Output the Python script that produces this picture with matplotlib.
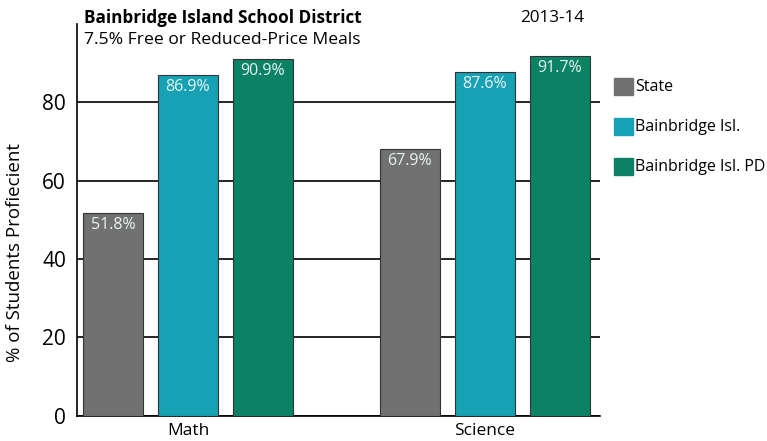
import numpy as np
import matplotlib
matplotlib.use("Agg")
import matplotlib.pyplot as plt
from matplotlib.patches import Rectangle

plt.rcParams['font.family'] = ['Open Sans', 'DejaVu Sans']

subjects = ["Math", "Science"]
series = ["State", "Bainbridge Isl.", "Bainbridge Isl. PD"]
values = {
    "State": [51.8, 67.9],
    "Bainbridge Isl.": [86.9, 87.6],
    "Bainbridge Isl. PD": [90.9, 91.7],
}
colors = ["#727172", "#16a2b4", "#0c8265"]
yticks = [0, 20, 40, 60, 80]

fig = plt.figure(figsize=(7.67, 4.41), dpi=100)
ax = fig.add_axes([0.1004, 0.0567, 0.6815, 0.89])

x = np.arange(len(subjects))
step = 0.2525
width = 0.202
for i, s in enumerate(series):
    pos = x + (i - 1) * step
    bars = ax.bar(pos, values[s], width, color=colors[i], edgecolor="#333333",
                  linewidth=0.8, zorder=3)
    for b, v in zip(bars, values[s]):
        ax.text(b.get_x() + b.get_width() / 2, v - 1.0, f"{v:.1f}%",
                ha="center", va="top", color="#e8f4f4", fontsize=11.5, zorder=4)

ax.set_xlim(-0.374, 1.387)
ax.set_ylim(0, 100)
ax.set_yticks(yticks)
ax.set_yticklabels([str(t) for t in yticks], fontsize=15)
ax.yaxis.grid(True, color="black", linewidth=1.2, zorder=0)
ax.tick_params(axis="y", length=0, pad=8)
ax.set_xticks(x)
ax.set_xticklabels(subjects, fontsize=12.5)
ax.tick_params(axis="x", length=0, pad=5)
ax.spines["top"].set_visible(False)
ax.spines["right"].set_visible(False)
ax.spines["left"].set_linewidth(1.2)
ax.spines["bottom"].set_linewidth(1.2)
fig.text(15 / 767, 1 - 253 / 441, "% of Students Profiecient", rotation=90,
         fontsize=13.5, va="center", ha="center")

fig.text(84 / 767, 1 - 18 / 441, "Bainbridge Island School District",
         fontsize=12.3, fontweight="bold", va="center", ha="left")
fig.text(84 / 767, 1 - 40 / 441, "7.5% Free or Reduced-Price Meals",
         fontsize=12.6, va="center", ha="left")
fig.text(584 / 767, 1 - 18 / 441, "2013-14", fontsize=12.3, va="center", ha="right")

# legend
for i, s in enumerate(series):
    yc = 1 - (87 + i * 40) / 441
    fig.patches.append(Rectangle((614 / 767, yc - 8 / 441), 19 / 767, 17 / 441,
                                 transform=fig.transFigure, color=colors[i]))
    fig.text(635 / 767, yc, s, fontsize=11.5, va="center", ha="left")

fig.savefig("out.png", dpi=100)
